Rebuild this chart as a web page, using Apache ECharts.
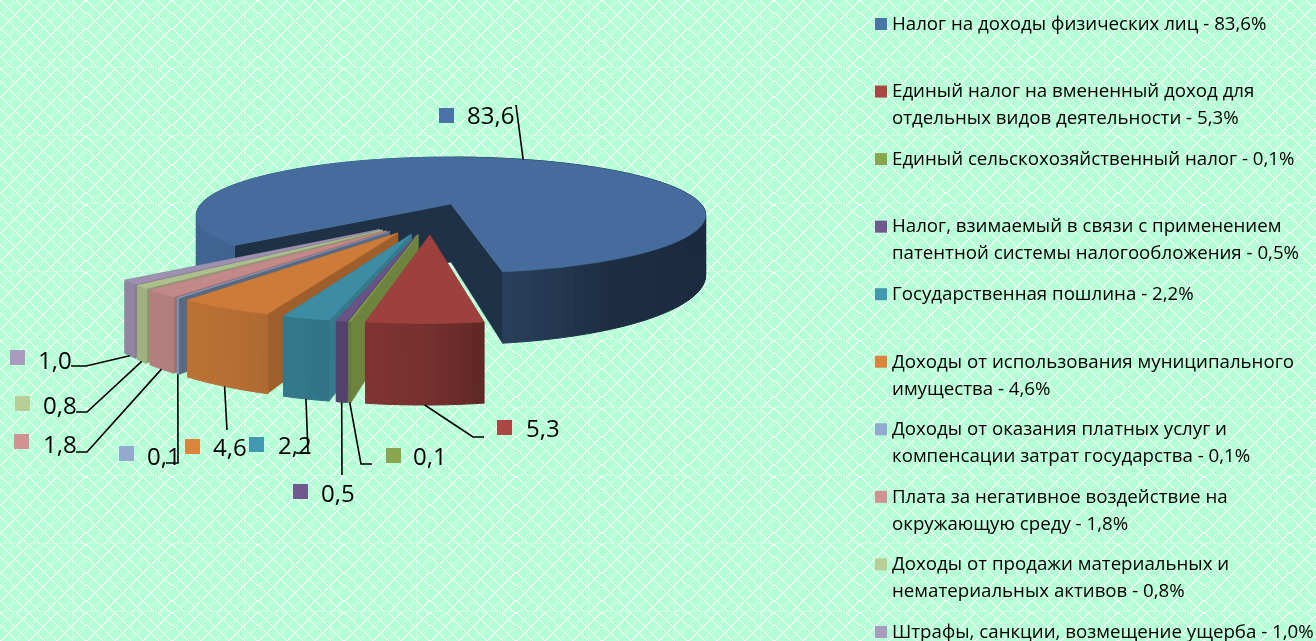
<!DOCTYPE html>
<html>
<head>
<meta charset="utf-8">
<style>
  html, body { margin: 0; padding: 0; }
  #chart { width: 1316px; height: 641px; }
</style>
<script src="https://cdn.jsdelivr.net/npm/echarts@6/dist/echarts.min.js"></script>
</head>
<body>
<div id="chart"></div>
<script>
const categories = [
  'Налог на доходы физических лиц - 83,6%',
  'Единый налог на вмененный доход для\nотдельных видов деятельности - 5,3%',
  'Единый сельскохозяйственный налог - 0,1%',
  'Налог, взимаемый в связи с применением\nпатентной системы налогообложения - 0,5%',
  'Государственная пошлина - 2,2%',
  'Доходы от использования муниципального\nимущества - 4,6%',
  'Доходы от оказания платных услуг и\nкомпенсации затрат государства - 0,1%',
  'Плата за негативное воздействие на\nокружающую среду - 1,8%',
  'Доходы от продажи материальных и\nнематериальных активов - 0,8%',
  'Штрафы, санкции, возмещение ущерба - 1,0%'
]
const sliceValues = [83.6, 5.3, 0.1, 0.5, 2.2, 4.6, 0.1, 1.8, 0.8, 1.0]
const keyColors = ['#4a74a8', '#aa4643', '#89a54e', '#71588f', '#4198af', '#db843d', '#93a9cf', '#d19392', '#b9cd96', '#a99bbd']
// brightness of the flat cut walls of each slice
const edgeLight = [0.42, 0.75, 0.8, 0.75, 0.8, 0.72, 0.62, 0.75, 0.75, 0.75]

// label layout: key square, text, and the bends of each leader line after it leaves the slice
const labelSpots = [
  { key: [439, 108], text: [467, 117], bends: [[516, 105]] },
  { key: [497, 420], text: [526, 430], bends: [[473, 437], [484, 437]] },
  { key: [386, 448], text: [413, 458], bends: [[361, 464], [372, 464]] },
  { key: [293, 484], text: [321, 495], bends: [[342, 475]] },
  { key: [249, 437], text: [278, 447], bends: [[308, 453], [296, 453]] },
  { key: [185, 439], text: [213, 449], bends: [[227, 430]] },
  { key: [119, 446], text: [147, 458], bends: [[178, 463], [166, 463]] },
  { key: [14, 434], text: [43, 446], bends: [[87, 452], [76, 452]] },
  { key: [15, 396], text: [43, 407], bends: [[87, 412], [76, 412]] },
  { key: [10, 350], text: [38, 362], bends: [[86, 366], [71, 366]] }
]

const FONT = '"Open Sans", sans-serif'
const startAngle = 139.4
const apex = [451, 204]
const radiusX = 250, radiusY = 55.9, persp = 0.19, wallDrop = 58, explode = 0.25
const sliceRadius = 1.02, sliceNudge = [0.008, 0.015]

const rad = d => d * Math.PI / 180
const dir = d => [Math.cos(rad(d)), Math.sin(rad(d))]

function project(u, v, drop) {
  const w = 1 - persp * v
  return [apex[0] + radiusX * u / w, apex[1] + (radiusY * v + (drop || 0)) / w]
}

function shade(hex, f) {
  const c = parseInt(hex.slice(1), 16)
  const ch = s => Math.round(((c >> s) & 255) * f)
  return 'rgb(' + ch(16) + ',' + ch(8) + ',' + ch(0) + ')'
}

// how much light the outer wall gets, by its direction around the pie
function wallLight(a) {
  a = ((a % 360) + 360) % 360
  if (a > 270) return 0.4
  const stops = [[0, 0.4], [30, 0.37], [60, 0.4], [80, 0.55], [90, 0.7], [120, 0.85], [180, 0.88], [270, 0.88]]
  for (let i = 1; i < stops.length; i++) {
    if (a <= stops[i][0]) {
      const t = (a - stops[i - 1][0]) / (stops[i][0] - stops[i - 1][0])
      return stops[i - 1][1] + t * (stops[i][1] - stops[i - 1][1])
    }
  }
  return 0.88
}

// angles of every slice, clockwise on screen
const total = sliceValues.reduce((a, b) => a + b, 0)
let running = startAngle
const slices = sliceValues.map(value => {
  const from = running
  running += value / total * 360
  return { from, to: running, mid: (from + running) / 2 }
})

// the first slice sits at the apex, the others are pushed out from the shared centre
const mainDir = dir(slices[0].mid)
const pieCenter = [-explode * mainDir[0], -explode * mainDir[1]]
slices.forEach((s, i) => {
  const d = dir(s.mid)
  s.origin = [pieCenter[0] + explode * d[0], pieCenter[1] + explode * d[1]]
  s.radius = 1
  if (i > 0) {
    s.origin[0] += sliceNudge[0]
    s.origin[1] += sliceNudge[1]
    s.radius = sliceRadius
  }
})

function arcPoint(s, a, drop) {
  const d = dir(a)
  return project(s.origin[0] + s.radius * d[0], s.origin[1] + s.radius * d[1], drop)
}

function polygon(points, color, z2, lineWidth) {
  return {
    type: 'polygon',
    z2,
    shape: { points },
    style: { fill: color, stroke: color, lineWidth: lineWidth || 0.5 }
  }
}

function renderSlice(params) {
  const i = params.dataIndex
  const s = slices[i]
  const color = keyColors[i]
  // main slice at the back, then from the far left round to the red one in front
  const base = i === 0 ? 0 : (slices.length - i) * 10
  const children = []
  const o = project(s.origin[0], s.origin[1])
  const oLow = project(s.origin[0], s.origin[1], wallDrop)

  const edge = a => [o, arcPoint(s, a), arcPoint(s, a, wallDrop), oLow]
  children.push(polygon(edge(s.to), shade(color, edgeLight[i]), base + 1))
  children.push(polygon(edge(s.from), shade(color, edgeLight[i]), base + 1))

  const steps = Math.max(1, Math.ceil((s.to - s.from) / 2))
  const top = [o]
  for (let k = 0; k <= steps; k++) {
    const a = s.from + (s.to - s.from) * k / steps
    top.push(arcPoint(s, a))
    if (k < steps) {
      const b = s.from + (s.to - s.from) * (k + 1) / steps
      const sinMid = Math.sin(rad((a + b) / 2))
      children.push(polygon(
        [arcPoint(s, a), arcPoint(s, b), arcPoint(s, b, wallDrop), arcPoint(s, a, wallDrop)],
        shade(color, wallLight((a + b) / 2)),
        base + (sinMid > -0.2 ? 2 : 0),
        1
      ))
    }
  }
  children.push(polygon(top, shade(color, 0.93), base + 3))
  return { type: 'group', children }
}

// background: dotted diagonal lattice with a faint seam every tile
function makeBackground() {
  const tileW = 86, tileH = 68, P = 14
  const cv = document.createElement('canvas')
  cv.width = tileW
  cv.height = tileH
  const g = cv.getContext('2d')
  g.fillStyle = '#b3fed5'
  g.fillRect(0, 0, tileW, tileH)
  for (let y = 0; y < tileH; y++) {
    for (let x = 0; x < tileW; x++) {
      const a = (x + y) % P, b = ((x - y) % P + P) % P
      if ((a < 3 || b < 3) && (x % 4 < 2) === (y % 4 < 2)) {
        g.fillStyle = '#eefff6'
        g.fillRect(x, y, 1, 1)
      }
    }
  }
  g.fillStyle = 'rgba(255,255,255,0.3)'
  g.fillRect(72, 0, 1, tileH)
  g.fillRect(0, 67, tileW, 1)
  return cv
}

// keys, numbers and leader lines around the pie, legend column on the right
const graphics = []
labelSpots.forEach((spot, i) => {
  const s = slices[i]
  const from = i === 0 ? arcPoint(s, s.mid) : arcPoint(s, s.mid, wallDrop)
  graphics.push({
    type: 'polyline',
    shape: { points: [from].concat(spot.bends) },
    style: { stroke: '#000', lineWidth: 1.6, fill: null },
    z: 20
  })
  graphics.push({
    type: 'rect',
    shape: { x: spot.key[0], y: spot.key[1], width: 15, height: 15 },
    style: { fill: keyColors[i] },
    z: 20
  })
  graphics.push({
    type: 'text',
    x: spot.text[0],
    y: spot.text[1],
    style: { text: sliceValues[i].toFixed(1).replace('.', ','), font: '24px ' + FONT, fill: '#000', verticalAlign: 'middle', textAlign: 'left' },
    z: 21
  })
})

const legendX = 875, legendTop = 18, legendStep = 67.55
categories.forEach((name, i) => {
  const y = legendTop + i * legendStep
  graphics.push({
    type: 'rect',
    shape: { x: legendX, y, width: 12, height: 12 },
    style: { fill: keyColors[i] },
    z: 20
  })
  graphics.push({
    type: 'text',
    x: legendX + 17,
    y: y - 7,
    style: { text: name, font: '18.7px ' + FONT, lineHeight: 27, fill: '#000', textAlign: 'left', verticalAlign: 'top' },
    z: 21
  })
})

const chart = echarts.init(document.getElementById('chart'), null, { renderer: 'canvas' })
chart.setOption({
  animation: false,
  backgroundColor: { image: makeBackground(), repeat: 'repeat' },
  series: [{
    type: 'custom',
    coordinateSystem: 'none',
    silent: true,
    renderItem: renderSlice,
    data: sliceValues
  }],
  graphic: { elements: graphics }
})
</script>
</body>
</html>
